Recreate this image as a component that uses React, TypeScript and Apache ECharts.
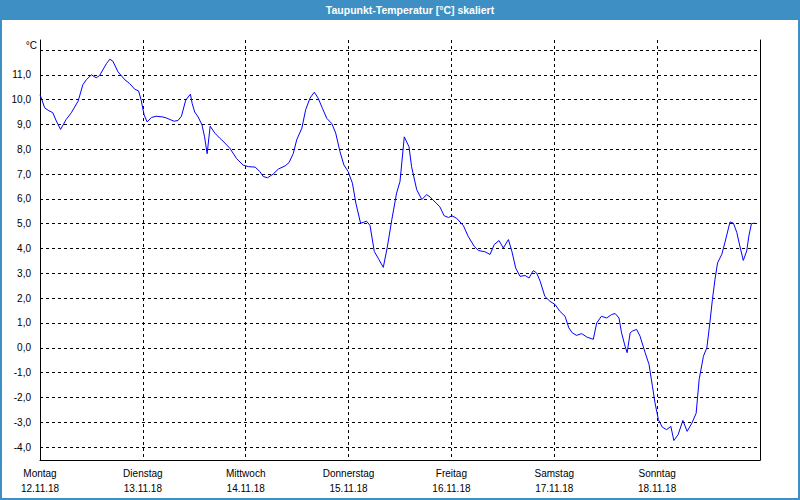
import React, { useEffect, useRef } from "react";
import * as echarts from "echarts";

const dayNames = ["Montag", "Dienstag", "Mittwoch", "Donnerstag", "Freitag", "Samstag", "Sonntag"];
const dayDates = ["12.11.18", "13.11.18", "14.11.18", "15.11.18", "16.11.18", "17.11.18", "18.11.18"];
const titleText = "Taupunkt-Temperatur [°C] skaliert";
const unitLabel = "°C";

// hours since Montag 12.11.18 00:00
const hours = [
  0, 1.1, 1.9, 3.0, 3.8, 4.8, 6.1, 7.3, 8.9, 10.0,
  10.8, 12.0, 13.1, 13.9, 15.5, 16.3, 17.0, 18.2, 19.8, 20.9,
  22.1, 23.0, 23.6, 24.3, 25.0, 26.0, 27.1, 28.7, 29.5, 30.3,
  31.3, 32.2, 33.0, 34.0, 35.1, 35.5, 36.1, 36.9, 37.8, 38.4,
  39.0, 39.7, 40.8, 41.9, 42.4, 44.3, 45.9, 47.4, 48.6, 50.2,
  51.3, 52.1, 53.1, 54.4, 55.6, 57.2, 58.1, 59.1, 59.9, 61.1,
  62.0, 63.0, 64.0, 64.9, 65.9, 66.9, 68.1, 69.0, 70.0, 70.9,
  71.9, 72.9, 73.7, 74.8, 75.4, 76.2, 77.0, 78.0, 79.1, 80.1,
  81.0, 82.1, 83.2, 84.0, 85.0, 86.1, 86.7, 87.9, 89.1, 90.2,
  91.0, 92.6, 93.3, 94.3, 95.3, 96.1, 97.2, 98.8, 99.9, 101.3,
  102.3, 103.8, 105.0, 106.0, 107.1, 108.1, 109.3, 110.1, 111.0, 112.0,
  113.2, 114.1, 115.1, 115.9, 116.7, 117.8, 119.0, 120.2, 121.3, 122.5,
  123.4, 124.2, 125.2, 126.4, 127.6, 129.1, 129.9, 131.0, 132.2, 133.4,
  134.2, 135.1, 135.7, 136.5, 137.0, 137.7, 138.2, 139.2, 140.0, 141.2,
  142.1, 142.9, 143.5, 144.3, 145.2, 146.2, 147.2, 147.9, 148.9, 150.0,
  151.0, 152.1, 153.1, 153.8, 154.8, 155.6, 156.3, 156.9, 157.5, 158.1,
  159.1, 159.8, 161.0, 161.8, 162.6, 163.3, 164.1, 164.9, 165.4, 166.0,
  166.8,
];

const dewPoint = [
  10.2, 9.67, 9.57, 9.47, 9.14, 8.8, 9.2, 9.47, 9.94, 10.6,
  10.8, 11.0, 10.88, 10.97, 11.45, 11.63, 11.55, 11.12, 10.8, 10.65,
  10.42, 10.35, 9.98, 9.38, 9.1, 9.28, 9.33, 9.3, 9.26, 9.2,
  9.13, 9.16, 9.33, 9.98, 10.22, 9.85, 9.5, 9.3, 8.98, 8.5,
  7.82, 8.93, 8.65, 8.45, 8.38, 8.04, 7.62, 7.36, 7.3, 7.28,
  7.1, 6.9, 6.85, 7.0, 7.2, 7.33, 7.46, 7.83, 8.38, 8.85,
  9.6, 10.06, 10.3, 10.06, 9.65, 9.25, 9.03, 8.65, 7.9, 7.37,
  7.1, 6.63, 5.83, 5.02, 5.05, 5.1, 4.93, 3.88, 3.55, 3.24,
  4.02, 5.17, 6.23, 6.7, 8.5, 8.1, 7.3, 6.37, 5.97, 6.17,
  6.08, 5.8, 5.68, 5.32, 5.25, 5.32, 5.22, 4.92, 4.49, 4.09,
  3.92, 3.87, 3.76, 4.16, 4.32, 4.02, 4.36, 3.89, 3.21, 2.88,
  2.91, 2.81, 3.11, 3.01, 2.68, 2.07, 1.87, 1.74, 1.47, 1.27,
  0.8, 0.6, 0.5, 0.57, 0.43, 0.34, 1.0, 1.27, 1.2, 1.34,
  1.38, 1.2, 0.6, 0.07, -0.2, 0.6, 0.67, 0.74, 0.47, -0.2,
  -0.67, -1.55, -2.22, -2.9, -3.2, -3.3, -3.17, -3.74, -3.5, -2.93,
  -3.37, -3.04, -2.64, -1.28, -0.34, 0.0, 1.0, 1.95, 2.76, 3.42,
  3.77, 4.23, 5.07, 5.02, 4.64, 4.1, 3.52, 3.9, 4.5, 5.0,
  5.02,
];

const FONT = "Liberation Sans, Arial, sans-serif";

export default function App() {
  const ref = useRef<HTMLDivElement>(null);

  useEffect(() => {
    if (!ref.current) return;
    const chart = echarts.init(ref.current, undefined, { renderer: "svg" });
    const dashed = { color: "#000", width: 1, type: [3, 3] as number[] };

    chart.setOption({
      animation: false,
      backgroundColor: "#ffffff",
      graphic: [
        { type: "rect", shape: { x: 0, y: 0, width: 800, height: 20 }, style: { fill: "#3d8fc4" }, z: 10 },
        { type: "rect", shape: { x: 1, y: 1, width: 798, height: 498 }, style: { fill: "none", stroke: "#3d8fc4", lineWidth: 2 }, z: 10 },
        {
          type: "text",
          x: 410,
          y: 10,
          z: 11,
          style: {
            text: titleText,
            fill: "#ffffff",
            font: `bold 10.5px ${FONT}`,
            align: "center",
            verticalAlign: "middle",
          },
        },
      ],
      grid: [
        { left: 40, right: 40, top: 40, bottom: 40 },
        { left: 40, right: 40, top: 50, bottom: 53 },
      ],
      xAxis: [
        {
          gridIndex: 0,
          type: "value",
          min: 0,
          max: 168,
          interval: 24,
          axisLine: { show: true, lineStyle: { color: "#000", width: 1 } },
          axisTick: { show: false },
          splitLine: { show: true, showMinLine: false, showMaxLine: false, lineStyle: dashed },
          axisLabel: {
            showMaxLabel: false,
            margin: 6,
            color: "#000",
            fontFamily: FONT,
            fontSize: 10,
            lineHeight: 15,
            formatter: (v: number) => {
              const i = Math.round(v / 24);
              return i < dayNames.length ? `${dayNames[i]}\n${dayDates[i]}` : "";
            },
          },
        },
        { gridIndex: 1, type: "value", min: 0, max: 168, show: false },
      ],
      yAxis: [
        {
          gridIndex: 0,
          type: "value",
          min: 0,
          max: 1,
          axisLine: { show: true, lineStyle: { color: "#000", width: 1 } },
          axisTick: { show: false },
          axisLabel: { show: false },
          splitLine: { show: false },
        },
        {
          gridIndex: 0,
          type: "value",
          position: "right",
          min: 0,
          max: 1,
          axisLine: { show: true, lineStyle: { color: "#000", width: 1 } },
          axisTick: { show: false },
          axisLabel: { show: false },
          splitLine: { show: false },
        },
        {
          gridIndex: 1,
          type: "value",
          min: -4,
          max: 12,
          interval: 1,
          name: unitLabel,
          nameLocation: "end",
          nameGap: 5,
          nameTextStyle: { color: "#000", fontFamily: FONT, fontSize: 10, align: "right", verticalAlign: "middle", padding: [0, 3, 0, 0] },
          axisLine: { show: false },
          axisTick: { show: false },
          splitLine: { show: true, lineStyle: dashed },
          axisLabel: {
            margin: 9,
            color: "#000",
            fontFamily: FONT,
            fontSize: 10,
            formatter: (v: number) => (v >= 12 ? "" : v.toFixed(1).replace(".", ",")),
          },
        },
      ],
      series: [
        {
          type: "line",
          xAxisIndex: 1,
          yAxisIndex: 2,
          data: hours.map((h, i) => [h, dewPoint[i]]),
          showSymbol: false,
          symbol: "none",
          lineStyle: { color: "#0000ff", width: 1 },
          itemStyle: { color: "#0000ff" },
          z: 5,
        },
      ],
    });

    return () => chart.dispose();
  }, []);

  return (
    <div
      ref={ref}
      style={{ position: "fixed", left: 0, top: 0, width: 800, height: 500 }}
    />
  );
}
